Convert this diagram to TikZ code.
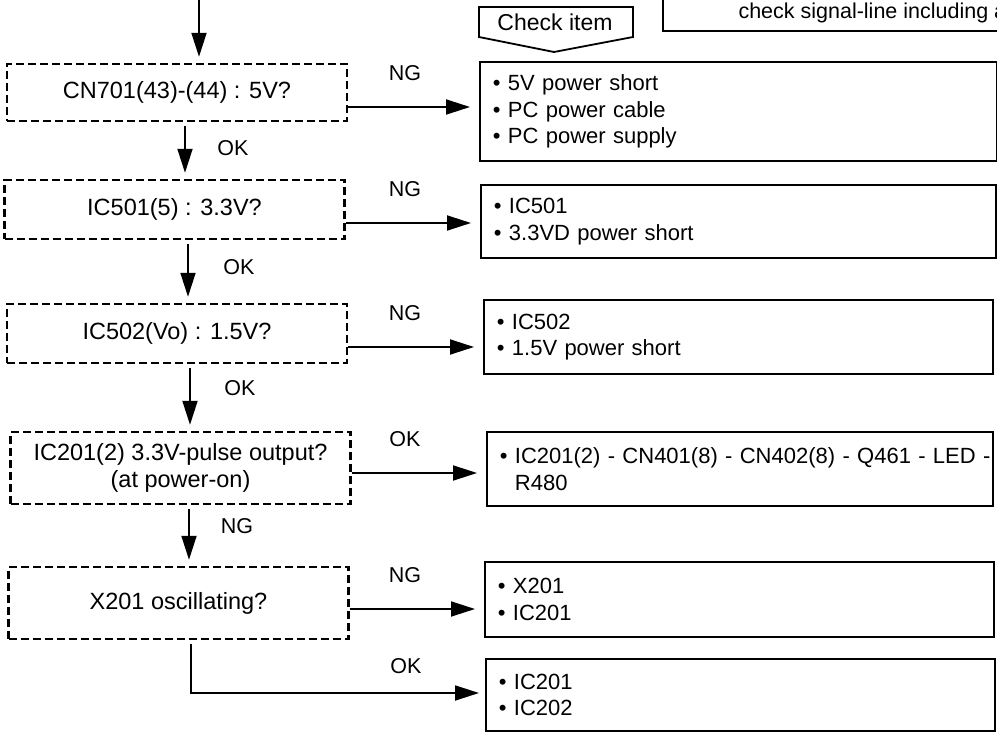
\documentclass[tikz,border=0pt]{standalone}
\usepackage{fontspec}
\setmainfont{Liberation Sans}
\usetikzlibrary{positioning,arrows.meta,calc}

\tikzset{
  query/.style={draw,dash pattern=on 8pt off 4pt,line width=2.4pt,minimum width=340pt,
    inner sep=0pt,align=center,font=\fontsize{23.5}{27}\selectfont},
  item/.style={draw,line width=1.8pt,anchor=west,text width=483pt,
    inner xsep=13pt,inner ysep=0pt,align=left,font=\fontsize{22}{26.5}\selectfont},
  lbl/.style={inner sep=0pt,font=\fontsize{21.5}{24}\selectfont},
  flow/.style={->,line width=1.8pt,shorten <=4pt,shorten >=6pt},
}

\begin{document}
\begin{tikzpicture}[x=1pt,y=-1pt,>={Triangle[length=24pt,width=15pt]}]
\useasboundingbox (0,0) rectangle (997,733);
\clip (0,0) rectangle (997,733);

% Header: check item tag and the clipped note box.
\draw[line width=1.8pt] (479,7) -- (633,7) -- (633,37) -- (554,52) -- (479,37) -- cycle;
\node[font=\fontsize{23}{27}\selectfont] (chk) at (555,22) {Check item};
\draw[line width=1.8pt] (663,-20) -- (663,31) -- (1030,31);
\node[anchor=base west,font=\fontsize{21.5}{26}\selectfont] (note) at (735,19) {check signal-line including a};

% Questions (dashed) down the left side.
\node[query,minimum height=57pt] (q1) at (177,92.5) {CN701(43)-(44) : 5V?};
\node[query,minimum height=59pt] (q2) at (174.5,209.5) {IC501(5) : 3.3V?};
\node[query,minimum height=59pt] (q3) at (177,333.5) {IC502(Vo) : 1.5V?};
\node[query,minimum height=72pt] (q4) at (180.5,468) {IC201(2) 3.3V-pulse output?\\(at power-on)};
\node[query,minimum height=72pt] (q5) at (178.5,603) {X201 oscillating?};

% Check items on the right.
\node[item,text width=491pt,minimum height=99pt] (c1) at (479,111.5) {\textbullet\ 5V power short\\\textbullet\ PC power cable\\\textbullet\ PC power supply};
\node[item,text width=489pt,minimum height=73pt] (c2) at (480,221.5) {\textbullet\ IC501\\\textbullet\ 3.3VD power short};
\node[item,minimum height=74pt] (c3) at (483,337) {\textbullet\ IC502\\\textbullet\ 1.5V power short};
\node[item,text width=480pt,minimum height=74pt] (c4) at (486,469) {\mbox{\textbullet\ IC201(2) - CN401(8) - CN402(8) - Q461 - LED -}\\\phantom{\textbullet\ }R480};
\node[item,minimum height=75pt] (c5) at (484,599.5) {\textbullet\ X201\\\textbullet\ IC201};
\node[item,minimum height=72pt] (c6) at (485,695) {\textbullet\ IC201\\\textbullet\ IC202};

% Main flow.
\coordinate (start) at (199,-10);
\draw[flow,shorten <=0pt] (start) -- (q1.north -| start);
\draw[flow] (q1.south -| 185,0) -- (q2.north -| 185,0);
\draw[flow] (q2.south -| 188,0) -- (q3.north -| 188,0);
\draw[flow] (q3.south -| 190,0) -- (q4.north -| 190,0);
\draw[flow] (q4.south -| 189,0) -- (q5.north -| 189,0);
\draw[flow] (q5.south -| 191,0) |- (c6.west |- 0,693);
\node[lbl] (ok1) at (233,148) {OK};
\node[lbl] (ok2) at (239,267) {OK};
\node[lbl] (ok3) at (240,388) {OK};
\node[lbl] (ng4) at (237,526) {NG};
\node[lbl] (ok5) at (406,666) {OK};

% Branches to check items.
\foreach \i/\y/\lab in {1/107/NG,2/223/NG,3/347/NG,4/473/OK,5/609/NG}{
  \draw[flow,shorten <=0pt,shorten >=9pt] (q\i.east |- 0,\y) -- (c\i.west |- 0,\y);
  \node[lbl] (r\i) at (405,\y-34) {\lab};
}
\end{tikzpicture}
\end{document}
